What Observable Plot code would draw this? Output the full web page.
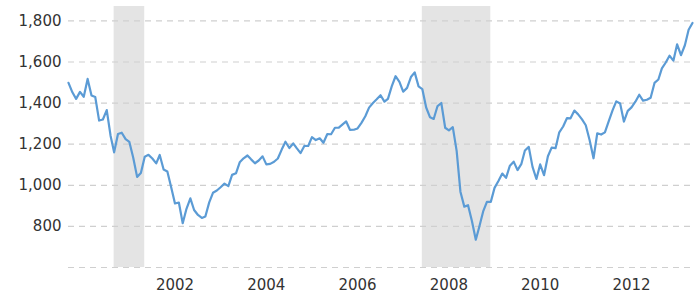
<!DOCTYPE html>
<html>
<head>
<meta charset="utf-8">
<script src="https://cdn.jsdelivr.net/npm/d3@7"></script>
<script src="https://cdn.jsdelivr.net/npm/@observablehq/plot@0.6"></script>
<style>
  html, body { margin: 0; padding: 0; background: #fff; }
  #chart svg { display: block; }
</style>
</head>
<body>
<div id="chart"></div>
<script>
// First month of the series (monthly closes)
const startYear = 2000;
const startMonth = 3; // March
// Monthly values, Mar 2000 .. Nov 2013
const values = [
  1498.58, 1452.43, 1420.60, 1454.60, 1430.83, 1517.68, 1436.51, 1429.40, 1314.95, 1320.28,
  1366.01, 1239.94, 1160.33, 1249.46, 1255.82, 1224.42, 1211.23, 1133.58, 1040.94, 1059.78, 1139.45, 1148.08,
  1130.20, 1106.73, 1147.39, 1076.92, 1067.14, 989.82, 911.62, 916.07, 815.28, 885.76, 936.31, 879.82,
  855.70, 841.15, 848.18, 916.92, 963.59, 974.50, 990.31, 1008.01, 995.97, 1050.71, 1058.20, 1111.92,
  1131.13, 1144.94, 1126.21, 1107.30, 1120.68, 1140.84, 1101.72, 1104.24, 1114.58, 1130.20, 1173.82, 1211.92,
  1181.27, 1203.60, 1180.59, 1156.85, 1191.50, 1191.33, 1234.18, 1220.33, 1228.81, 1207.01, 1249.48, 1248.29,
  1280.08, 1280.66, 1294.83, 1310.61, 1270.09, 1270.20, 1276.66, 1303.82, 1335.85, 1377.94, 1400.63, 1418.30,
  1438.24, 1406.82, 1420.86, 1482.37, 1530.62, 1503.35, 1455.27, 1473.99, 1526.75, 1549.38, 1481.14, 1468.36,
  1378.55, 1330.63, 1322.70, 1385.59, 1400.38, 1280.00, 1267.38, 1282.83, 1166.36, 968.75, 896.24, 903.25,
  825.88, 735.09, 797.87, 872.81, 919.14, 919.32, 987.48, 1020.62, 1057.08, 1036.19, 1095.63, 1115.10,
  1073.87, 1104.49, 1169.43, 1186.69, 1089.41, 1030.71, 1101.60, 1049.33, 1141.20, 1183.26, 1180.55, 1257.64,
  1286.12, 1327.22, 1325.83, 1363.61, 1345.20, 1320.64, 1292.28, 1218.89, 1131.42, 1253.30, 1246.96, 1257.60,
  1312.41, 1365.68, 1408.47, 1397.91, 1310.33, 1362.16, 1379.32, 1406.58, 1440.67, 1412.16, 1416.18, 1426.19,
  1498.11, 1514.68, 1569.19, 1597.57, 1630.74, 1606.28, 1685.73, 1632.97, 1681.55, 1756.54, 1790.00
];
// Recession periods (shaded)
const recessionStarts = ["2001-03-01", "2007-12-01"];
const recessionEnds = ["2001-11-01", "2009-06-01"];
// Axis ticks
const yTickValues = [800, 1000, 1200, 1400, 1600, 1800];
const gridValues = [600, 800, 1000, 1200, 1400, 1600, 1800];
const xTickYears = [2002, 2004, 2006, 2008, 2010, 2012];

const series = values.map((v, i) => ({
  date: new Date(Date.UTC(startYear, startMonth - 1 + i, 1)),
  value: v
}));
const recessions = recessionStarts.map((s, i) => ({
  start: new Date(s + "T00:00:00Z"),
  end: new Date(recessionEnds[i] + "T00:00:00Z")
}));
const xTicks = xTickYears.map(y => new Date(Date.UTC(y, 6, 1)));

const chart = Plot.plot({
  width: 700,
  height: 300,
  marginLeft: 68,
  marginRight: 8,
  marginTop: 6,
  marginBottom: 33,
  style: {
    fontFamily: "'DejaVu Sans', Verdana, sans-serif",
    fontSize: "15px",
    color: "#333",
    background: "#fff"
  },
  x: {
    type: "utc",
    domain: [series[0].date, series[series.length - 1].date],
    ticks: xTicks,
    tickFormat: d => String(d.getUTCFullYear()),
    tickSize: 0,
    tickPadding: 12,
    label: null,
    line: false
  },
  y: {
    domain: [600, 1870],
    ticks: yTickValues,
    tickFormat: d3.format(","),
    tickSize: 0,
    tickPadding: 7,
    label: null,
    line: false
  },
  marks: [
    Plot.rect(recessions, {x1: "start", x2: "end", fill: "#e4e4e4"}),
    Plot.ruleY(gridValues, {stroke: "#cfcfcf", strokeWidth: 1.2, strokeDasharray: "6,5"}),
    Plot.line(series, {x: "date", y: "value", stroke: "#5b9bd5", strokeWidth: 2.2, strokeLinejoin: "round"})
  ]
});
document.getElementById("chart").appendChild(chart);
</script>
</body>
</html>
